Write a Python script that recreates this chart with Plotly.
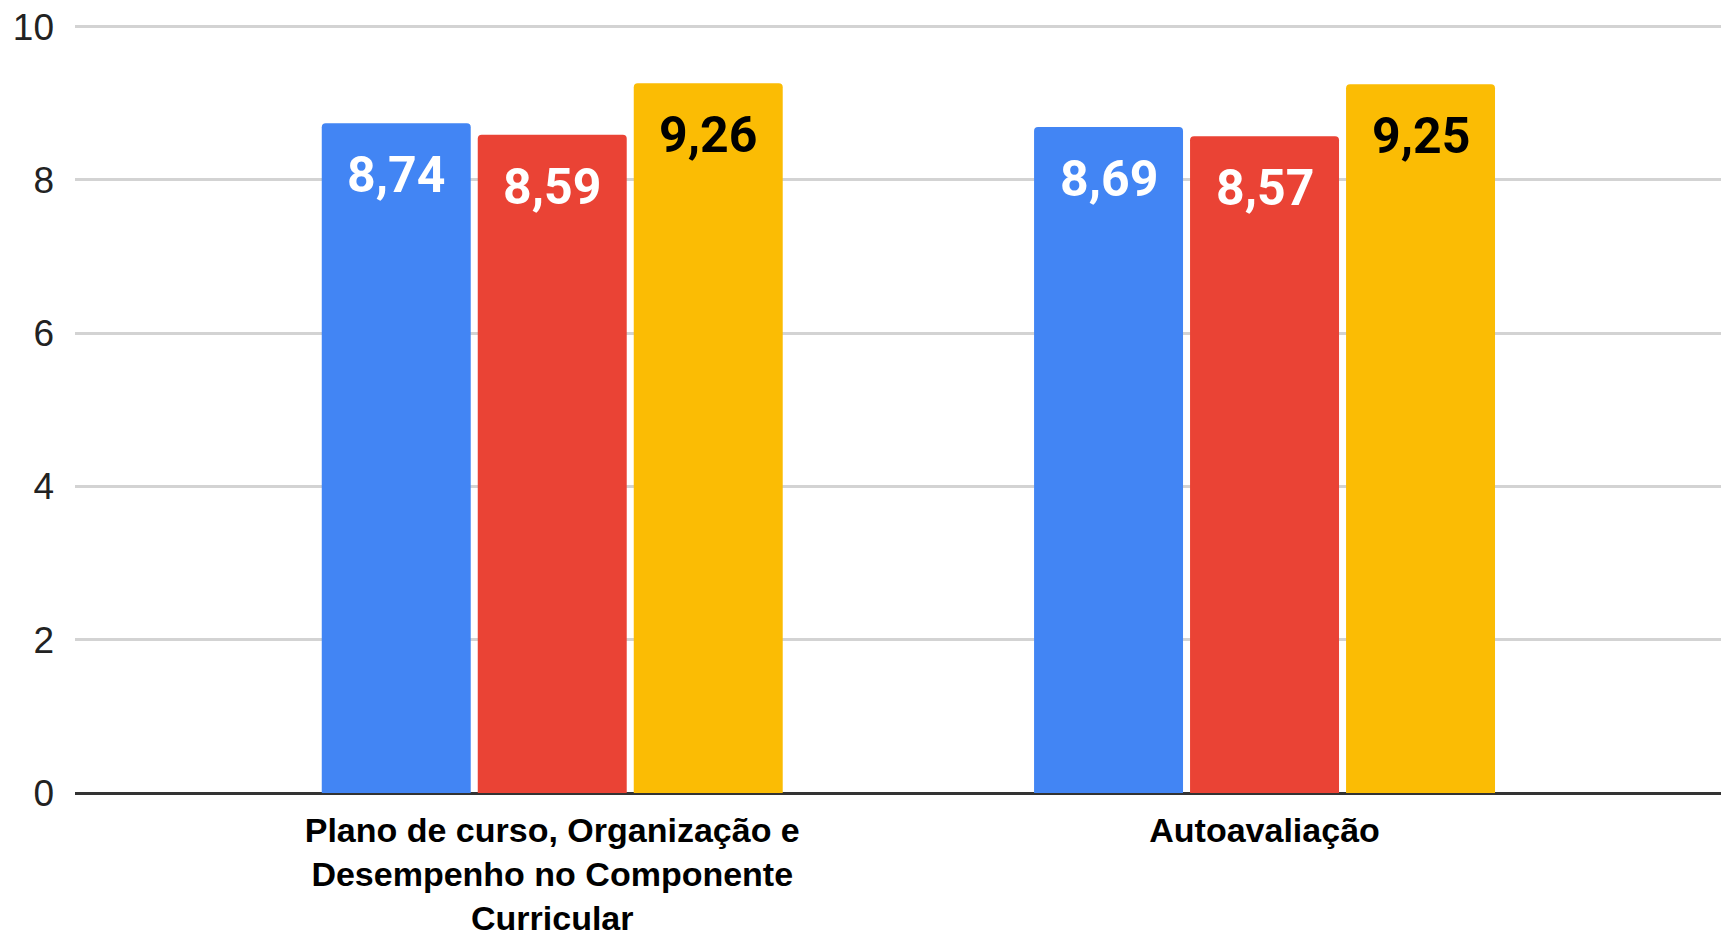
import plotly.graph_objects as go

categories = [
    "Plano de curso, Organização e Desempenho no Componente Curricular",
    "Autoavaliação",
]
tick_labels = [
    "Plano de curso, Organização e<br>Desempenho no Componente<br>Curricular",
    "Autoavaliação",
]
series_names = ["Série 1", "Série 2", "Série 3"]
series_a = [8.74, 8.69]
series_b = [8.59, 8.57]
series_c = [9.26, 9.25]
y_ticks = [0, 2, 4, 6, 8, 10]

colors = ["#4285F4", "#EA4335", "#FBBC04"]
text_colors = ["white", "white", "black"]

# layout parameters
W, H = 1713, 931
ML, MR, MT, MB = 67, 0, 11, 146
PX_PER_CAT = 712.3
X_RANGE = [-0.67, -0.67 + (W - ML - MR) / PX_PER_CAT]
BARGAP = 0.343
BARGROUPGAP = 0.045

fig = go.Figure()
all_series = [series_a, series_b, series_c]
for name, vals, col in zip(series_names, all_series, colors):
    fig.add_trace(go.Bar(
        x=categories,
        y=vals,
        name=name,
        marker=dict(color=col, line=dict(width=0), cornerradius=4),
        textposition="none",
        hoverinfo="skip",
    ))

# value labels placed inside the top of each bar
slot = PX_PER_CAT * (1 - BARGAP) / len(all_series)
for i, (vals, tcol) in enumerate(zip(all_series, text_colors)):
    shift = (i - (len(all_series) - 1) / 2) * slot
    for cat, v in zip(categories, vals):
        fig.add_annotation(
            x=cat, y=v, xref="x", yref="y",
            text=f"{v:.2f}".replace(".", ","),
            showarrow=False,
            xanchor="center", yanchor="top",
            xshift=shift, yshift=-21,
            font=dict(family="Roboto", size=50, color=tcol, weight="bold"),
        )

fig.update_layout(
    width=W,
    height=H,
    barmode="group",
    bargap=BARGAP,
    bargroupgap=BARGROUPGAP,
    showlegend=False,
    plot_bgcolor="white",
    paper_bgcolor="white",
    margin=dict(l=ML, r=MR, t=MT, b=MB, autoexpand=False),
    xaxis=dict(
        range=X_RANGE,
        automargin=False,
        tickmode="array",
        tickvals=categories,
        ticktext=tick_labels,
        tickfont=dict(family="Liberation Sans", size=34, color="black", weight="bold"),
        showgrid=False,
        showline=False,
        ticks="",
        ticklabelstandoff=14,
        ticklabeloverflow="allow",
    ),
    yaxis=dict(
        range=[0, 10.1],
        automargin=False,
        tickmode="array",
        tickvals=y_ticks,
        tickfont=dict(family="Liberation Sans", size=37, color="#222222"),
        showgrid=True,
        gridcolor="#d3d3d3",
        gridwidth=3,
        zeroline=True,
        zerolinecolor="#333333",
        zerolinewidth=3,
        ticklabelstandoff=20,
        ticklabeloverflow="allow",
        showline=False,
    ),
)

fig.write_html("out.html")
